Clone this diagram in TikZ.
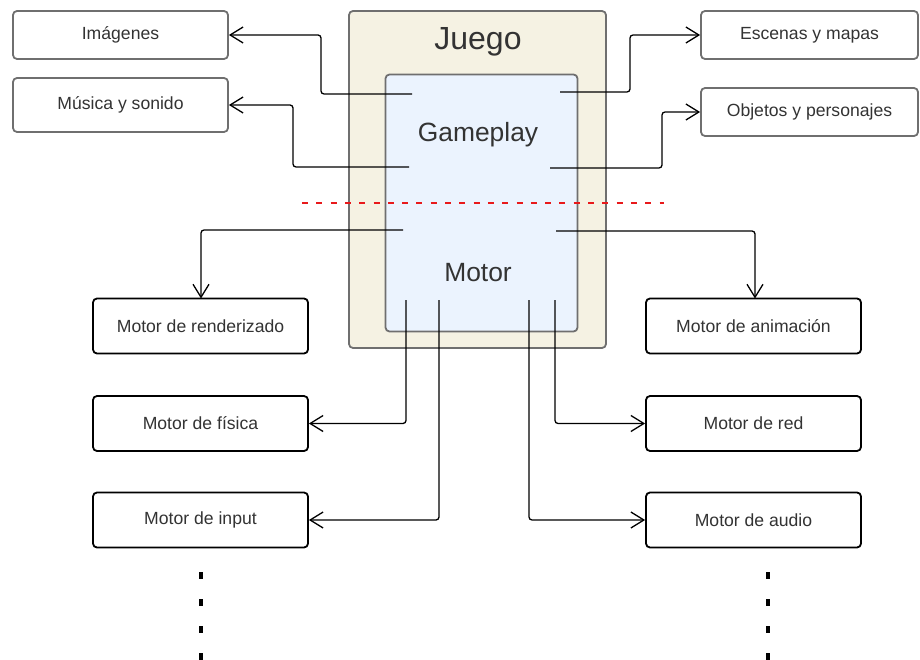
\documentclass[tikz,border=0pt]{standalone}
\usepackage{fontspec}
\setmainfont{Liberation Sans}
\usetikzlibrary{arrows.meta}
\definecolor{txt}{HTML}{333333}
\definecolor{bordergray}{HTML}{6F6F6F}
\definecolor{beige}{HTML}{F5F2E3}
\definecolor{lblue}{HTML}{EBF3FE}
\definecolor{dashred}{HTML}{E8191B}
\tikzset{
  topbox/.style={draw=bordergray, line width=1.8pt, rounded corners=4pt, fill=white,
    text=txt, font=\fontsize{17.6}{19}\selectfont, inner sep=0pt},
  engbox/.style={draw=black, line width=1.8pt, rounded corners=4pt, fill=white,
    text=txt, font=\fontsize{17.6}{19}\selectfont, inner sep=0pt,
    minimum width=215pt, minimum height=55pt},
  conn/.style={draw=black, line width=1.3pt, rounded corners=3pt,
    -{Straight Barb[length=13pt,width=16pt,line width=1.3pt]}},
  bigtext/.style={text=txt, inner sep=0pt},
}
\begin{document}
\begin{tikzpicture}[x=1pt,y=-1pt]
\useasboundingbox (0,0) rectangle (920,660);
% containers
\node[draw=bordergray, line width=1.8pt, rounded corners=4pt, fill=beige,
  minimum width=257pt, minimum height=337pt, inner sep=0pt] (juego) at (477.5,179.5) {};
\node[draw=bordergray, line width=1.8pt, rounded corners=4pt, fill=lblue,
  minimum width=192pt, minimum height=257pt, inner sep=0pt] (core) at (481.5,203) {};
\node[bigtext, font=\fontsize{32}{35}\selectfont] (jtitle) at (478,42) {Juego};
\node[bigtext, font=\fontsize{26.4}{29}\selectfont] (gp) at (478,135) {Gameplay};
\node[bigtext, font=\fontsize{26.4}{29}\selectfont] (mt) at (478,273) {Motor};
% red divider
\coordinate (redA) at (302,203);
\coordinate (redB) at (664,203);
\draw[dashred, line width=2pt, dash pattern=on 6pt off 8.3pt] (redA) -- (redB);
% top boxes
\node[topbox, minimum width=215pt, minimum height=48pt] (img) at (120.5,35) {Imágenes};
\node[topbox, minimum width=215pt, minimum height=54pt] (mus) at (120.5,105) {Música y sonido};
\node[topbox, minimum width=217pt, minimum height=48pt] (esc) at (809.5,35) {Escenas y mapas};
\node[topbox, minimum width=217pt, minimum height=48pt] (obj) at (809.5,112) {Objetos y personajes};
% engine boxes
\node[engbox] (rend) at (200.5,326) {Motor de renderizado};
\node[engbox] (fis) at (200.5,423.5) {Motor de física};
\node[engbox] (inp) at (200.5,520) {Motor de input};
\node[engbox] (anim) at (753.5,326) {Motor de animación};
\node[engbox] (red) at (753.5,423.5) {Motor de red};
\node[engbox] (aud) at (753.5,520) {Motor de audio};
% connector origins
\coordinate (s1) at (412,94);
\coordinate (s2) at (409,167);
\coordinate (s3) at (560,92);
\coordinate (s4) at (550,168);
\coordinate (s5) at (403,230);
\coordinate (s6) at (556,231);
\coordinate (s7) at (406,300);
\coordinate (s8) at (439,300);
\coordinate (s9) at (529,300);
\coordinate (s10) at (555,300);
% connectors
\draw[conn] (s1) -- (321,94) -- (321,35) -- (img.east);
\draw[conn] (s2) -- (293,167) -- (293,105) -- (mus.east);
\draw[conn] (s3) -- (630,92) -- (630,35) -- (esc.west);
\draw[conn] (s4) -- (662,168) -- (662,112) -- (obj.west);
\draw[conn] (s5) -- (201,230) -- (201,298.5);
\draw[conn] (s6) -- (755,231) -- (755,298.5);
\draw[conn] (s7) -- (406,423.5) -- (fis.east);
\draw[conn] (s8) -- (439,520) -- (inp.east);
\draw[conn] (s10) -- (555,423.5) -- (red.west);
\draw[conn] (s9) -- (529,520) -- (aud.west);
% continuation marks
\coordinate (d1a) at (201,572);
\coordinate (d1b) at (201,660);
\coordinate (d2a) at (768,572);
\coordinate (d2b) at (768,660);
\draw[line width=4pt, dash pattern=on 7pt off 20pt] (d1a) -- (d1b);
\draw[line width=4pt, dash pattern=on 7pt off 20pt] (d2a) -- (d2b);
\end{tikzpicture}
\end{document}
